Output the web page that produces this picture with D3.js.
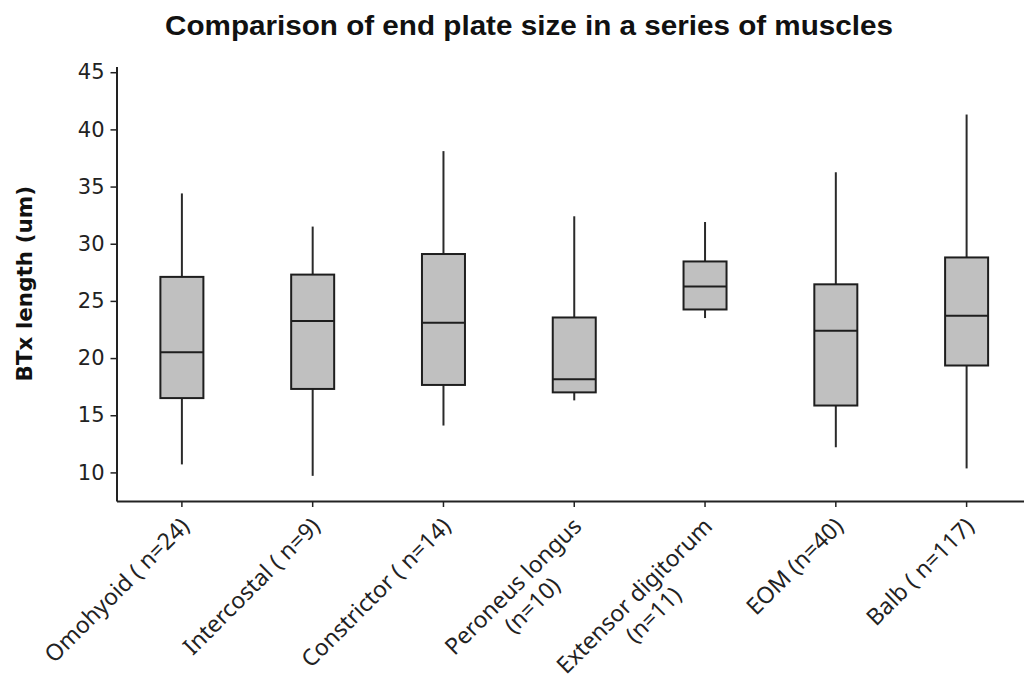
<!DOCTYPE html>
<html>
<head>
<meta charset="utf-8">
<script src="https://cdn.jsdelivr.net/npm/d3@7/dist/d3.min.js"></script>
<style>
  html, body { margin: 0; padding: 0; background: #fff; }
  svg { display: block; }
</style>
</head>
<body>
<svg id="chart" width="1024" height="682"></svg>
<script>
// Muscle groups (label lines) and box-plot statistics for BTx end plate length (um)
const categories = [
  ["Omohyoid ( n=24)"],
  ["Intercostal ( n=9)"],
  ["Constrictor ( n=14)"],
  ["Peroneus longus", "(n=10)"],
  ["Extensor digitorum", "(n=11)"],
  ["EOM (n=40)"],
  ["Balb ( n=117)"]
];
const whiskerLow  = [10.7,  9.7, 14.1, 16.3, 23.5, 12.2, 10.35];
const q1          = [16.5, 17.3, 17.65, 17.0, 24.25, 15.85, 19.35];
const median      = [20.5, 23.25, 23.1, 18.15, 26.25, 22.4, 23.7];
const q3          = [27.1, 27.3, 29.1, 23.55, 28.45, 26.45, 28.8];
const whiskerHigh = [34.4, 31.5, 38.1, 32.4, 31.9, 36.25, 41.3];
const yTicks = [10, 15, 20, 25, 30, 35, 40, 45];

const titleText = "Comparison of end plate size in a series of muscles";
const yLabel = "BTx length (um)";

const svg = d3.select("#chart");
const ink = "#222";

const plot = { left: 116.5, top: 66.5, bottom: 501, right: 1032 };

const x = d3.scaleBand()
  .domain(categories.map((d, i) => i))
  .range([plot.left, plot.right])
  .paddingInner(0).paddingOuter(0);

const y = d3.scaleLinear()
  .domain([7.5, 45.5])
  .range([plot.bottom, plot.top]);

const data = categories.map((c, i) => ({
  i, lines: c,
  lo: whiskerLow[i], q1: q1[i], med: median[i], q3: q3[i], hi: whiskerHigh[i]
}));

// Title: heavy bold, squeezed horizontally to its set width
const titleG = svg.append("g");
const title = titleG.append("text")
  .attr("x", 0).attr("y", 0)
  .attr("text-anchor", "middle")
  .style("font-family", "'Liberation Sans', Arial, sans-serif")
  .style("font-weight", "bold")
  .style("font-size", "28px")
  .attr("fill", "#111")
  .text(titleText);
{
  const w = title.node().getComputedTextLength();
  titleG.attr("transform", `translate(529,35) scale(${(728 / w).toFixed(4)},1)`);
}

// Y axis
const yAxis = svg.append("g")
  .attr("transform", `translate(${plot.left},0)`)
  .call(d3.axisLeft(y).tickValues(yTicks).tickSize(6).tickSizeOuter(0).tickPadding(6));
yAxis.select(".domain").attr("stroke", ink).attr("stroke-width", 2);
yAxis.selectAll(".tick line").attr("stroke", ink).attr("stroke-width", 1.5);
yAxis.selectAll(".tick text")
  .style("font-family", "'DejaVu Sans', Verdana, sans-serif")
  .style("font-size", "21px")
  .attr("fill", "#222");

// X axis
const xAxis = svg.append("g")
  .attr("transform", `translate(0,${plot.bottom})`)
  .call(d3.axisBottom(x).tickSize(6).tickSizeOuter(0).tickFormat(""));
xAxis.select(".domain").attr("stroke", ink).attr("stroke-width", 2);
xAxis.selectAll(".tick line").attr("stroke", ink).attr("stroke-width", 1.5);

// Rotated category labels, multi-line labels centred on their longest line
const labelFont = "'Noto Sans', 'Open Sans', sans-serif";
const labels = svg.append("g");
data.forEach(d => {
  const cx = x(d.i) + x.bandwidth() / 2;
  const g = labels.append("g")
    .attr("transform", `translate(${cx + 3},${plot.bottom + 21}) rotate(-45)`);
  const texts = d.lines.map((line, k) => g.append("text")
    .attr("y", k * 27)
    .attr("dy", "0.35em")
    .style("font-family", labelFont)
    .style("font-size", "23px")
    .attr("fill", "#222")
    .text(line));
  if (texts.length === 1) {
    texts[0].attr("text-anchor", "end");
  } else {
    const maxW = d3.max(texts, t => t.node().getComputedTextLength());
    texts.forEach(t => t.attr("text-anchor", "middle").attr("x", -maxW / 2));
  }
});

// Y axis title
svg.append("text")
  .attr("transform", `translate(32,${(plot.top + plot.bottom) / 2}) rotate(-90)`)
  .attr("text-anchor", "middle")
  .style("font-family", "'DejaVu Sans', Verdana, sans-serif")
  .style("font-weight", "bold")
  .style("font-size", "21.5px")
  .attr("fill", "#111")
  .text(yLabel);

// Box plots
const boxW = 43;
const boxes = svg.append("g");
const bx = boxes.selectAll("g.box").data(data).join("g").attr("class", "box");
bx.append("line")
  .attr("x1", d => x(d.i) + x.bandwidth() / 2)
  .attr("x2", d => x(d.i) + x.bandwidth() / 2)
  .attr("y1", d => y(d.hi)).attr("y2", d => y(d.q3))
  .attr("stroke", "#2a2a2a").attr("stroke-width", 2);
bx.append("line")
  .attr("x1", d => x(d.i) + x.bandwidth() / 2)
  .attr("x2", d => x(d.i) + x.bandwidth() / 2)
  .attr("y1", d => y(d.q1)).attr("y2", d => y(d.lo))
  .attr("stroke", "#2a2a2a").attr("stroke-width", 2);
bx.append("rect")
  .attr("x", d => x(d.i) + x.bandwidth() / 2 - boxW / 2)
  .attr("width", boxW)
  .attr("y", d => y(d.q3))
  .attr("height", d => y(d.q1) - y(d.q3))
  .attr("fill", "#c0c0c0")
  .attr("stroke", "#1e1e1e").attr("stroke-width", 2);
bx.append("line")
  .attr("x1", d => x(d.i) + x.bandwidth() / 2 - boxW / 2)
  .attr("x2", d => x(d.i) + x.bandwidth() / 2 + boxW / 2)
  .attr("y1", d => y(d.med)).attr("y2", d => y(d.med))
  .attr("stroke", "#1e1e1e").attr("stroke-width", 2);
</script>
</body>
</html>
